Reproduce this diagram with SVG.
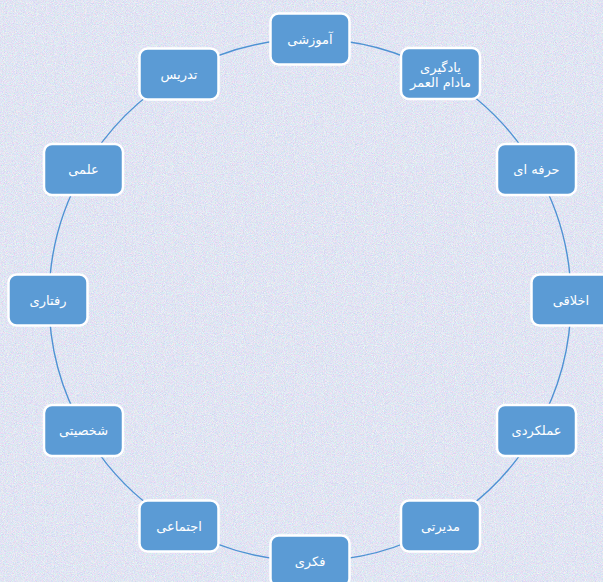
<svg xmlns="http://www.w3.org/2000/svg" width="603" height="582" viewBox="0 0 603 582">
<defs>
<filter id="tex" x="0" y="0" width="100%" height="100%" color-interpolation-filters="sRGB">
<feTurbulence type="fractalNoise" baseFrequency="1.1" numOctaves="2" seed="7" result="n"/>
<feColorMatrix in="n" type="matrix" values="0.30 0 0 0 0.73  0 0.26 0 0 0.765  0 0 0.16 0 0.87  0 0 0 0 1"/>
</filter>
<style>
.node rect{fill:#5B9BD5;stroke:#ffffff;stroke-width:2.5}
.node text{fill:#ffffff;font-family:"DejaVu Sans","Liberation Sans",sans-serif;font-size:13px;text-anchor:middle;dominant-baseline:central}
.arc{fill:none;stroke:#4f92d3;stroke-width:1.4}
</style>
</defs>
<rect x="0" y="0" width="603" height="582" fill="#dfe5f1" filter="url(#tex)"/>
<g id="connectors">
<path class="arc" d="M310,39 A261,261 0 0 1 440.5,74"/>
<path class="arc" d="M440.5,74 A261,261 0 0 1 536,169.5"/>
<path class="arc" d="M536,169.5 A261,261 0 0 1 571,300"/>
<path class="arc" d="M571,300 A261,261 0 0 1 536,430.5"/>
<path class="arc" d="M536,430.5 A261,261 0 0 1 440.5,526"/>
<path class="arc" d="M440.5,526 A261,261 0 0 1 310,561"/>
<path class="arc" d="M310,561 A261,261 0 0 1 179.5,526"/>
<path class="arc" d="M179.5,526 A261,261 0 0 1 84,430.5"/>
<path class="arc" d="M84,430.5 A261,261 0 0 1 49,300"/>
<path class="arc" d="M49,300 A261,261 0 0 1 84,169.5"/>
<path class="arc" d="M84,169.5 A261,261 0 0 1 179.5,74"/>
<path class="arc" d="M179.5,74 A261,261 0 0 1 310,39"/>
</g>
<g id="n1" class="node"><rect x="270.5" y="13.5" width="79" height="51" rx="8"/><text x="310" y="39">آموزشی</text></g>
<g id="n2" class="node"><rect x="401" y="48" width="79" height="51" rx="8"/><text x="440.5" y="67">یادگیری</text><text x="440.5" y="82">مادام العمر</text></g>
<g id="n3" class="node"><rect x="497" y="144" width="79" height="51" rx="8"/><text x="536.5" y="169.5">حرفه ای</text></g>
<g id="n4" class="node"><rect x="531.5" y="274.5" width="79" height="51" rx="8"/><text x="571" y="300">اخلاقی</text></g>
<g id="n5" class="node"><rect x="497" y="405" width="79" height="51" rx="8"/><text x="536.5" y="430.5">عملکردی</text></g>
<g id="n6" class="node"><rect x="401" y="500.5" width="79" height="51" rx="8"/><text x="440.5" y="526">مدیرتی</text></g>
<g id="n7" class="node"><rect x="270.5" y="535.5" width="79" height="51" rx="8"/><text x="310" y="561">فکری</text></g>
<g id="n8" class="node"><rect x="139.5" y="500.5" width="79" height="51" rx="8"/><text x="179" y="526">اجتماعی</text></g>
<g id="n9" class="node"><rect x="44" y="405" width="79" height="51" rx="8"/><text x="83.5" y="430.5">شخصیتی</text></g>
<g id="n10" class="node"><rect x="8.5" y="274.5" width="79" height="51" rx="8"/><text x="48" y="300">رفتاری</text></g>
<g id="n11" class="node"><rect x="44" y="144" width="79" height="51" rx="8"/><text x="83.5" y="169.5">علمی</text></g>
<g id="n12" class="node"><rect x="139.5" y="48.5" width="79" height="51" rx="8"/><text x="179" y="74">تدریس</text></g>
</svg>
